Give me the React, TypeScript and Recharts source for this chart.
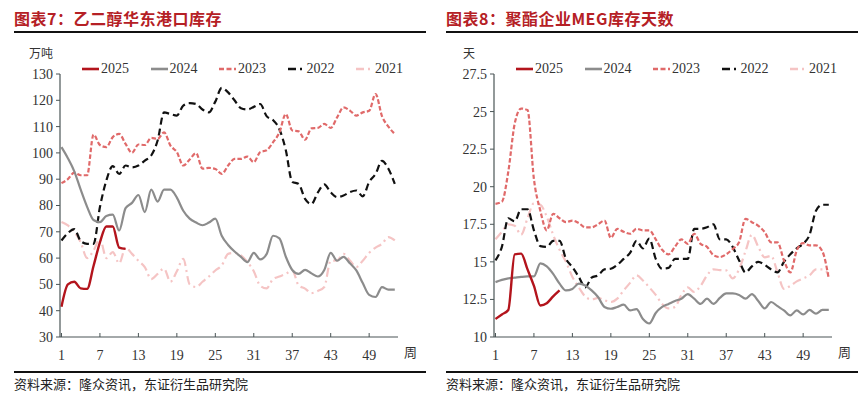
import { Line, LineChart, XAxis, YAxis } from "recharts";

const weeks = [
  1, 2, 3, 4, 5, 6, 7, 8, 9, 10, 11, 12, 13, 14, 15, 16, 17, 18, 19, 20, 21, 22, 23, 24, 25, 26, 27,
  28, 29, 30, 31, 32, 33, 34, 35, 36, 37, 38, 39, 40, 41, 42, 43, 44, 45, 46, 47, 48, 49, 50, 51,
  52, 53,
];
const weekTicks = [1, 7, 13, 19, 25, 31, 37, 43, 49];
const portTicks = [30, 40, 50, 60, 70, 80, 90, 100, 110, 120, 130];
const dayTicks = [10, 12.5, 15, 17.5, 20, 22.5, 25, 27.5];

// 乙二醇华东港口库存 (万吨)
const port2025 = [41.5, 50, 51, 48.5, 48.3, 57, 66, 72, 72, 64, 63.5];
const port2024 = [
  102.2, 98, 93, 86, 79.5, 74.5, 73.7, 76, 76.5, 70.5, 79, 81, 84, 77.5, 86, 81.5, 86, 86, 83, 78,
  75, 73.5, 72.5, 73.5, 75, 68.5, 65, 62.5, 60.5, 58.5, 62, 59.5, 61.5, 68.5, 67.5, 60.5, 55.5, 54,
  55.5, 54.2, 53, 55.5, 62, 59, 60.5, 58, 55.3, 50.5, 46, 45.2, 49, 48, 48,
];
const port2023 = [
  88.5, 90, 92.5, 91.5, 91.5, 107, 103, 102.2, 106, 107.2, 103.4, 100, 103.2, 103, 105.7, 105.3,
  107.8, 102.8, 100.3, 95.2, 97.5, 99.9, 94, 94.3, 93.9, 92, 95.2, 97.7, 97.7, 98.6, 96.5, 100.3,
  101, 104, 107.8, 114.8, 108.5, 108.2, 105, 109.3, 109.5, 111, 109.5, 113.5, 117.3, 116.1, 114.2,
  115.4, 116, 122.4, 114, 110, 107.2,
];
const port2022 = [
  66.7, 69.5, 71, 66.5, 65.4, 65.4, 79.4, 89.5, 95, 92, 95.2, 94.5, 95.2, 97.1, 99, 104.7, 115.4,
  114.8, 114.2, 118, 118.9, 118.6, 116.5, 115.4, 119.5, 124.7, 123, 120, 117, 116.5, 117.5, 118.6,
  114, 112.5, 109, 101, 89, 88.2, 82.5, 80.6, 85, 88, 85, 83.2, 83.8, 85.1, 85.7, 83.5, 88.9, 92,
  97, 94, 88.2,
];
const port2021 = [
  73.7, 72.4, 70, 66, 60, 62.9, 67.3, 60, 62.3, 58, 64, 61.6, 59, 56.6, 52, 54, 56, 51, 55, 59.7,
  50, 49, 51, 53, 55.3, 57.2, 61.6, 62, 61, 58.5, 55, 49.5, 48.5, 52, 53, 54, 55.3, 49.6, 48.4,
  46.7, 47.5, 49, 59, 59.1, 61.6, 59.1, 56.6, 59, 62, 64, 65.4, 68, 66.7,
];

// 聚酯企业MEG库存天数 (天)
const days2025 = [11.2, 11.5, 11.8, 15.5, 15.55, 14.5, 13.4, 12.1, 12.25, 12.7, 13.1];
const days2024 = [
  13.65, 13.8, 13.9, 13.95, 14, 14.03, 14.03, 14.9, 14.7, 14.2, 13.55, 13.1, 13.2, 13.55, 13.43,
  13.1, 12.66, 12, 11.88, 12, 12.15, 11.77, 11.85, 11.2, 10.9, 11.6, 12, 12.2, 12.4, 12.55, 12.85,
  12.55, 12.2, 12.55, 12.2, 12.6, 12.9, 12.9, 12.8, 12.55, 12.85, 12.4, 11.9, 12.33, 12.05, 11.77,
  11.44, 11.77, 11.5, 11.8, 11.55, 11.8, 11.8,
];
const days2023 = [
  18.86, 19, 21, 24.2, 25.2, 25.1, 20.5, 18.4, 17.1, 18.2, 17.9, 17.64, 17.75, 17.58, 17.3, 17.3,
  17.5, 17.75, 16.6, 17.2, 17, 16.87, 17.2, 17.1, 17.1, 16.5, 15.8, 15.5, 16, 16.5, 16.2, 16.87,
  16.2, 16, 15.45, 15.32, 15.5, 15.85, 16.3, 17.86, 17.64, 17.4, 16.98, 16.3, 16.3, 15.1, 14.3,
  15.76, 16.25, 16.1, 16.1, 15.7, 13.88,
];
const days2022 = [
  15.1, 16, 17.9, 17.7, 18.5, 18.5, 17.1, 16.05, 16, 16.4, 16.4, 15.2, 14.65, 14, 13.3, 13.95, 14.1,
  14.5, 14.54, 14.8, 15.2, 15.6, 16.4, 15.9, 16.54, 15.2, 14.54, 14.6, 15.2, 15.2, 15.2, 17.2, 17.2,
  17.3, 17.5, 16.5, 16.5, 16, 15.1, 14.3, 14.7, 15, 14.8, 14.5, 14.3, 15, 15.5, 15.9, 16.2, 16.8,
  18.4, 18.8, 18.8,
];
const days2021 = [
  16.5, 17, 17.5, 17.4, 16.8, 17.9, 18.9, 18.8, 18, 16.8, 15.8, 15, 14, 13.3, 12.7, 12.5, 12.6,
  12.45, 12.33, 12.55, 13.1, 13.6, 14.1, 13.76, 13.3, 12.8, 12.2, 11.9, 12, 12.8, 13.3, 13, 13.4,
  14.1, 14.5, 14.45, 14.43, 13.9, 14.5, 15.7, 16.8, 16, 15.3, 15.4, 14.3, 13.2, 13.4, 13.7, 13.9,
  14.1, 14.5, 14.5, 14.2,
];

const SERIF = "'Liberation Serif', 'Times New Roman', 'Noto Sans CJK SC', serif";
const CJK = "'Noto Sans CJK SC', sans-serif";
const AXIS = "#4a5556";
const INK = "#333333";

const years = [
  { key: "y2025", name: "2025", color: "#b3141c", dash: undefined, legendDash: undefined, width: 2.4 },
  { key: "y2024", name: "2024", color: "#8c8c8c", dash: undefined, legendDash: undefined, width: 2.2 },
  { key: "y2023", name: "2023", color: "#e06a6a", dash: "4.5 2.2", legendDash: "5 2.5", width: 2.2 },
  { key: "y2022", name: "2022", color: "#111111", dash: "7 4", legendDash: "8 4 2 3", width: 2.2 },
  { key: "y2021", name: "2021", color: "#f5c4c4", dash: "9 4 2 4", legendDash: "8 4 2 3", width: 2.2 },
];

function buildRows(s: (number | undefined)[][]) {
  return weeks.map((week, i) => ({
    week,
    y2025: s[0][i],
    y2024: s[1][i],
    y2023: s[2][i],
    y2022: s[3][i],
    y2021: s[4][i],
  }));
}

const portRows = buildRows([port2025, port2024, port2023, port2022, port2021]);
const dayRows = buildRows([days2025, days2024, days2023, days2022, days2021]);

function WeekTick({ x, y, payload }: any) {
  return (
    <g>
      <line x1={x} y1={y} x2={x} y2={y - 4} stroke={AXIS} strokeWidth={1} />
      <text x={x} y={y + 23} textAnchor="middle" fontFamily={SERIF} fontSize={14} fill={INK}>
        {payload.value}
      </text>
    </g>
  );
}

function YearLegend({ left }: { left: number }) {
  return (
    <div
      style={{
        position: "absolute",
        left,
        top: 60,
        display: "flex",
        fontFamily: SERIF,
        fontSize: 14,
        color: INK,
        lineHeight: "18px",
      }}
    >
      {years.map((s) => (
        <div key={s.key} style={{ width: 68.5, display: "flex", alignItems: "center" }}>
          <svg width={17} height={4} style={{ display: "block" }}>
            <line x1={0} y1={2} x2={17} y2={2} stroke={s.color} strokeWidth={2.6} strokeDasharray={s.legendDash} />
          </svg>
          <span style={{ marginLeft: 2 }}>{s.name}</span>
        </div>
      ))}
    </div>
  );
}

interface PanelProps {
  left: number;
  title: string;
  unit: string;
  rows: ReturnType<typeof buildRows>;
  yDomain: [number, number];
  yTicks: number[];
  plotLeft: number;
}

function Panel({ left, title, unit, rows, yDomain, yTicks, plotLeft }: PanelProps) {
  const yAxisWidth = 40;
  return (
    <div style={{ position: "absolute", left, top: 0, width: 432, height: 398 }}>
      <div
        style={{
          position: "absolute",
          left: 14,
          top: 6,
          fontFamily: CJK,
          fontWeight: 700,
          fontSize: 16,
          color: "#b52025",
          letterSpacing: 0.5,
          whiteSpace: "nowrap",
        }}
      >
        {title}
      </div>
      <div style={{ position: "absolute", left: 14, top: 31, width: 412, height: 1.5, background: "#111" }} />
      <div style={{ position: "absolute", left: plotLeft - 31, top: 44, fontFamily: CJK, fontSize: 12, color: INK }}>
        {unit}
      </div>
      <YearLegend left={plotLeft + 22} />
      <LineChart
        width={432}
        height={398}
        data={rows}
        margin={{ top: 74, right: 432 - plotLeft - 338, bottom: 40, left: plotLeft - yAxisWidth }}
      >
        <XAxis
          dataKey="week"
          type="number"
          domain={[0.77, 53.5]}
          ticks={weekTicks}
          allowDataOverflow
          height={21}
          tickSize={0}
          tickMargin={0}
          tickLine={false}
          axisLine={{ stroke: AXIS, strokeWidth: 1.2 }}
          tick={<WeekTick />}
          interval={0}
        />
        <YAxis
          type="number"
          domain={yDomain}
          ticks={yTicks}
          width={yAxisWidth}
          tickSize={4}
          tickMargin={3}
          tickLine={{ stroke: AXIS }}
          axisLine={{ stroke: AXIS, strokeWidth: 1.2 }}
          tick={{ fontFamily: SERIF, fontSize: 14, fill: INK }}
          interval={0}
        />
        {years
          .slice()
          .reverse()
          .map((s) => (
            <Line
              key={s.key}
              type="monotone"
              dataKey={s.key}
              name={s.name}
              stroke={s.color}
              strokeWidth={s.width}
              strokeDasharray={s.dash}
              dot={false}
              activeDot={false}
              isAnimationActive={false}
            />
          ))}
      </LineChart>
      <div style={{ position: "absolute", left: plotLeft + 344, top: 342, fontFamily: CJK, fontSize: 13, color: INK }}>
        周
      </div>
      <div style={{ position: "absolute", left: 14, top: 371, width: 412, height: 1.5, background: "#111" }} />
      <div style={{ position: "absolute", left: 14, top: 374, fontFamily: CJK, fontSize: 13, color: "#222" }}>
        资料来源：隆众资讯，东证衍生品研究院
      </div>
    </div>
  );
}

export default function App() {
  return (
    <div style={{ position: "relative", width: 864, height: 398, background: "#fff", overflow: "hidden" }}>
      <style>{`body{margin:0}`}</style>
      <Panel
        left={0}
        title="图表7：乙二醇华东港口库存"
        unit="万吨"
        rows={portRows}
        yDomain={[30, 130]}
        yTicks={portTicks}
        plotLeft={60}
      />
      <Panel
        left={432}
        title="图表8：聚酯企业MEG库存天数"
        unit="天"
        rows={dayRows}
        yDomain={[10, 27.5]}
        yTicks={dayTicks}
        plotLeft={62}
      />
    </div>
  );
}
